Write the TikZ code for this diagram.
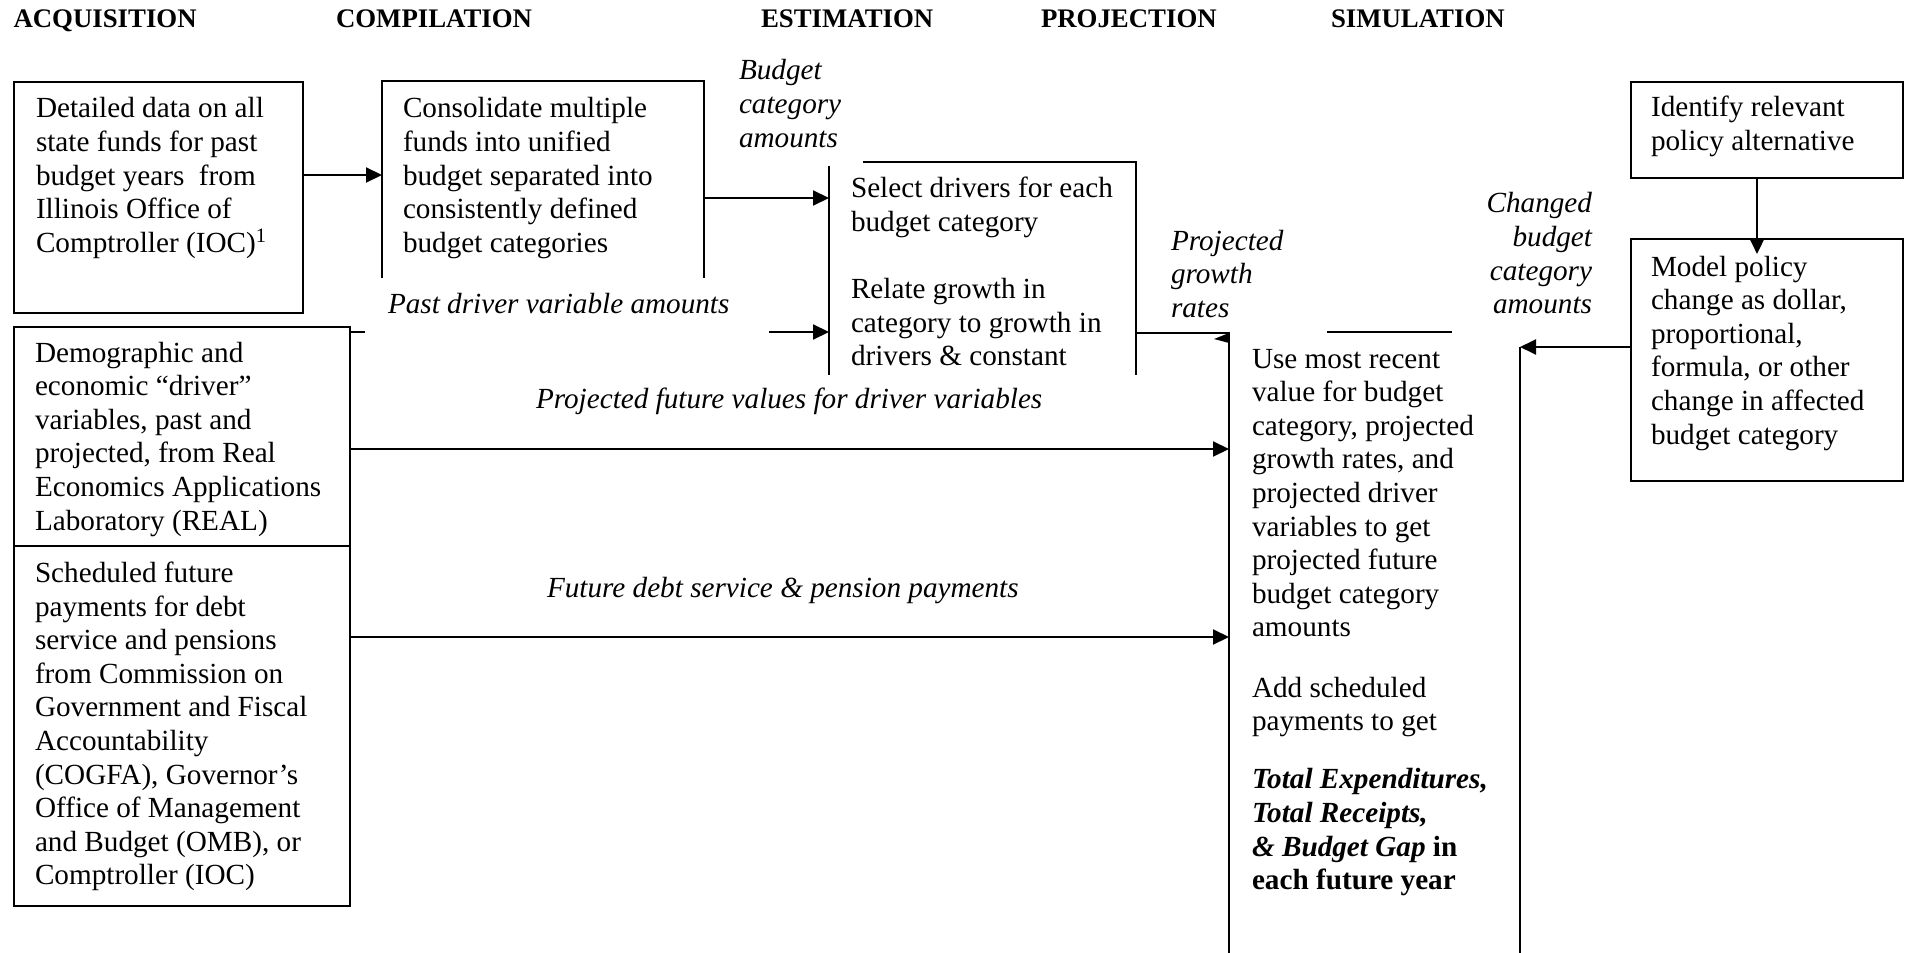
\documentclass[tikz,border=0pt]{standalone}
\usepackage{fontspec}
\setmainfont{Liberation Serif}
\usetikzlibrary{arrows.meta,calc}
\newcommand{\mlines}[1]{\begin{tabular}[t]{@{}l@{}}#1\end{tabular}}
\newcommand{\mlinesr}[1]{\begin{tabular}[t]{@{}r@{}}#1\end{tabular}}
\begin{document}
\begin{tikzpicture}[x=0.5pt,y=-0.5pt,
  line width=1pt,
  arr/.style={-{Triangle[length=8pt,width=7.5pt]}},
  box/.style={rectangle,inner sep=0pt,anchor=north west,draw},
  area/.style={rectangle,inner sep=0pt,anchor=north west},
  txt/.style={inner sep=0pt,anchor=base west,font=\fontsize{14.6}{16.8}\selectfont},
  hdr/.style={inner sep=0pt,anchor=base west,font=\fontsize{13.4}{16}\selectfont\bfseries},
  lbl/.style={inner sep=0pt,anchor=base west,font=\fontsize{14.6}{16.8}\selectfont\itshape},
]
\useasboundingbox (0,0) rectangle (1909,952);

% headers
\node[hdr] (h1) at (12.5,28) {ACQUISITION};
\node[hdr] (h2) at (335,28) {COMPILATION};
\node[hdr] (h3) at (760,28) {ESTIMATION};
\node[hdr] (h4) at (1040,28) {PROJECTION};
\node[hdr] (h5) at (1330,28) {SIMULATION};

% boxes
\node[box,minimum width=144.5pt,minimum height=115.5pt] (b1) at (13,81) {};
\node[area,minimum width=160pt,minimum height=97.5pt] (b2) at (382,81) {};
\draw (b2.south west) -- (b2.north west) -- (b2.north east) -- (b2.south east);
\node[area,minimum width=152.5pt,minimum height=105.5pt] (b3) at (829,162) {};
\draw (b3.north west) ++(0,4) -- (b3.south west);
\draw (b3.north west) ++(34,0) -- (b3.north east) -- (b3.south east);
\node[box,minimum width=168pt,minimum height=109.5pt] (b4) at (13,326) {};
\node[box,minimum width=168pt,minimum height=180pt] (b5) at (13,545) {};
\node[area,minimum width=144.5pt,minimum height=310pt] (b6) at (1229,332) {};
\draw (b6.north west) -- (b6.south west);
\draw (b6.north west) ++(98,0) -- ++(125,0);
\draw (b6.north east) ++(0,15) -- (b6.south east);
\node[box,minimum width=136pt,minimum height=48pt] (b7) at (1630,81) {};
\node[box,minimum width=136pt,minimum height=121pt] (b8) at (1630,238) {};

% box texts
\node[txt] (t1) at (35,118) {\mlines{Detailed data on all\\state funds for past\\budget years~ from\\Illinois Office of\\Comptroller (IOC)\textsuperscript{1}}};
\node[txt] (t2) at (402,118) {\mlines{Consolidate multiple\\funds into unified\\budget separated into\\consistently defined\\budget categories}};
\node[txt] (t3) at (850,198) {\mlines{Select drivers for each\\budget category\\[16.8pt]Relate growth in\\category to growth in\\drivers \& constant}};
\node[txt] (t4) at (34,362) {\mlines{Demographic and\\economic “driver”\\variables, past and\\projected, from Real\\Economics Applications\\Laboratory (REAL)}};
\node[txt] (t5) at (34,582.5) {\mlines{Scheduled future\\payments for debt\\service and pensions\\from Commission on\\Government and Fiscal\\Accountability\\(COGFA), Governor’s\\Office of Management\\and Budget (OMB), or\\Comptroller (IOC)}};
\node[txt] (t6) at (1251,368) {\mlines{Use most recent\\value for budget\\category, projected\\growth rates, and\\projected driver\\variables to get\\projected future\\budget category\\amounts\\[13.3pt]Add scheduled\\payments to get\\[12.3pt]\textbf{\textit{Total Expenditures,}}\\\textbf{\textit{Total Receipts,}}\\\textbf{\textit{\& Budget Gap} in}\\\textbf{each future year}}};
\node[txt] (t7) at (1650,117) {\mlines{Identify relevant\\policy alternative}};
\node[txt] (t8) at (1650,276) {\mlines{Model policy\\change as dollar,\\proportional,\\formula, or other\\change in affected\\budget category}};

% connector labels
\node[lbl] (l1) at (738,80) {\mlines{Budget\\category\\amounts}};
\node[lbl] (l2) at (387,313) {Past driver variable amounts};
\node[lbl] (l3) at (1170,250) {\mlines{Projected\\growth\\rates}};
\node[lbl,anchor=base east] (l4) at (1593,213) {\mlinesr{Changed\\budget\\category\\amounts}};
\node[lbl] (l5) at (535,408) {Projected future values for driver variables};
\node[lbl] (l6) at (546,597) {Future debt service \& pension payments};

% connectors
\coordinate (yA) at (0,175);
\coordinate (yB) at (0,198);
\coordinate (yC) at (0,332);
\coordinate (yD) at (0,333);
\coordinate (yE) at (0,449);
\coordinate (yF) at (0,637);
\coordinate (yH) at (0,347);
\coordinate (xG) at (1757,0);
\coordinate (pdA) at (365,332);
\coordinate (pdB) at (769,332);

\draw[arr] (b1.east |- yA) -- (b2.west |- yA);
\draw[arr] (b2.east |- yB) -- (b3.west |- yB);
\draw (b4.north east |- yC) -- (pdA);
\draw[arr] (pdB) -- (b3.west |- yC);
\draw (b3.east |- yD) -- (b6.west |- yD);
\fill (b6.west |- yD) -- ++(-15,6) -- ++(15,4) -- cycle;
\draw[arr] (b4.east |- yE) -- (b6.west |- yE);
\draw[arr] (b5.east |- yF) -- (b6.west |- yF);
\draw[arr] (xG |- b7.south) -- ($(xG |- b8.north)+(0,16)$);
\draw[arr] (b8.west |- yH) -- (b6.east |- yH);
\end{tikzpicture}
\end{document}
